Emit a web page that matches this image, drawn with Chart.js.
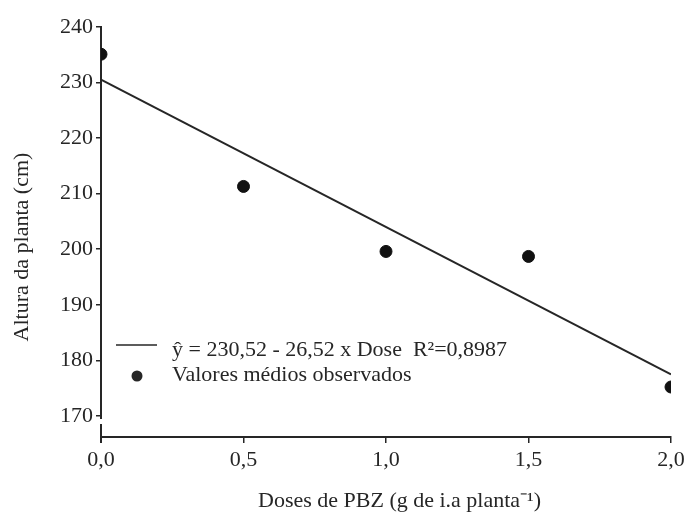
<!DOCTYPE html>
<html>
<head>
<meta charset="utf-8">
<script src="https://cdn.jsdelivr.net/npm/chart.js@4.4.0/dist/chart.umd.min.js"></script>
<style>
  html, body { margin: 0; padding: 0; background: #fff; }
  #wrap { width: 691px; height: 514px; }
</style>
</head>
<body>
<div id="wrap"><canvas id="chart"></canvas></div>
<script>
// Doses de PBZ vs altura da planta

const doses = [0, 0.5, 1.0, 1.5, 2.0];
const alturas = [235.1, 211.3, 199.6, 198.7, 175.2];

// regression line (ends at x = 0 and x = 2)
const fitX = [0, 2];
const fitY = [230.52, 177.48];

const xTicks = [0, 0.5, 1.0, 1.5, 2.0];
const yTicks = [170, 180, 190, 200, 210, 220, 230, 240];

const eqLabel = 'ŷ = 230,52 - 26,52 x Dose  R²=0,8987';
const obsLabel = 'Valores médios observados';
const xTitle = 'Doses de PBZ (g de i.a planta⁻¹)';
const yTitle = 'Altura da planta (cm)';

const ink = '#262626';
const fontFamily = '"Liberation Serif", "Times New Roman", serif';
const font = '22px ' + fontFamily;

// legend inside the plot, axis titles and the little axis break
const extrasPlugin = {
    id: 'extras',
    afterDraw(chart) {
        const ctx = chart.ctx;
        const area = chart.chartArea;
        ctx.save();

        // break in the y axis just under 170
        ctx.fillStyle = '#fff';
        ctx.fillRect(area.left - 2, area.bottom - 18, 4, 5);
        ctx.strokeStyle = ink;
        ctx.lineWidth = 2;
        ctx.beginPath();
        ctx.moveTo(area.left, area.bottom);
        ctx.lineTo(area.left, area.bottom + 6);
        ctx.stroke();

        ctx.font = font;
        ctx.fillStyle = ink;
        ctx.textBaseline = 'middle';

        // legend
        ctx.lineWidth = 1.5;
        ctx.beginPath();
        ctx.moveTo(116, 345);
        ctx.lineTo(157, 345);
        ctx.stroke();
        ctx.fillText(chart.data.datasets[0].label, 172, 350);

        ctx.beginPath();
        ctx.arc(137, 376, 5.5, 0, Math.PI * 2);
        ctx.fill();
        ctx.fillText(chart.data.datasets[1].label, 172, 375);

        // axis titles
        ctx.textAlign = 'left';
        ctx.fillText(xTitle, 258, 501);

        ctx.translate(22, 247);
        ctx.rotate(-Math.PI / 2);
        ctx.textAlign = 'center';
        ctx.fillText(yTitle, 0, 0);
        ctx.restore();
    }
};

const ctx = document.getElementById('chart');
new Chart(ctx, {
    type: 'scatter',
    data: {
        datasets: [{
            type: 'line',
            label: eqLabel,
            data: fitX.map((x, i) => ({ x: x, y: fitY[i] })),
            borderColor: ink,
            borderWidth: 2,
            pointRadius: 0,
            fill: false,
            order: 2
        }, {
            label: obsLabel,
            data: doses.map((x, i) => ({ x: x, y: alturas[i] })),
            backgroundColor: '#111',
            borderColor: '#111',
            pointRadius: 6,
            order: 1
        }]
    },
    options: {
        responsive: true,
        maintainAspectRatio: false,
        animation: false,
        layout: { padding: { top: 27, right: 20, left: 8, bottom: 4 } },
        plugins: {
            legend: { display: false },
            tooltip: { enabled: false }
        },
        scales: {
            x: {
                type: 'linear',
                min: 0,
                max: 2,
                afterBuildTicks: axis => { axis.ticks = xTicks.map(v => ({ value: v })); },
                afterFit: scale => { scale.height = 73; },
                border: { display: true, color: ink, width: 2 },
                grid: { display: true, drawOnChartArea: false, drawTicks: true, tickLength: 6, color: ink, lineWidth: 1.5 },
                ticks: {
                    color: ink,
                    font: { family: fontFamily, size: 22 },
                    padding: 4,
                    maxRotation: 0,
                    callback: v => v.toFixed(1).replace('.', ',')
                }
            },
            y: {
                type: 'linear',
                min: 166.2,
                max: 240,
                afterBuildTicks: axis => { axis.ticks = yTicks.map(v => ({ value: v })); },
                afterFit: scale => { scale.width = 93; },
                border: { display: true, color: ink, width: 2 },
                grid: { display: true, drawOnChartArea: false, drawTicks: true, tickLength: 5, color: ink, lineWidth: 1.5 },
                ticks: {
                    color: ink,
                    font: { family: fontFamily, size: 22 },
                    padding: 3
                }
            }
        }
    },
    plugins: [extrasPlugin]
});
</script>
</body>
</html>
